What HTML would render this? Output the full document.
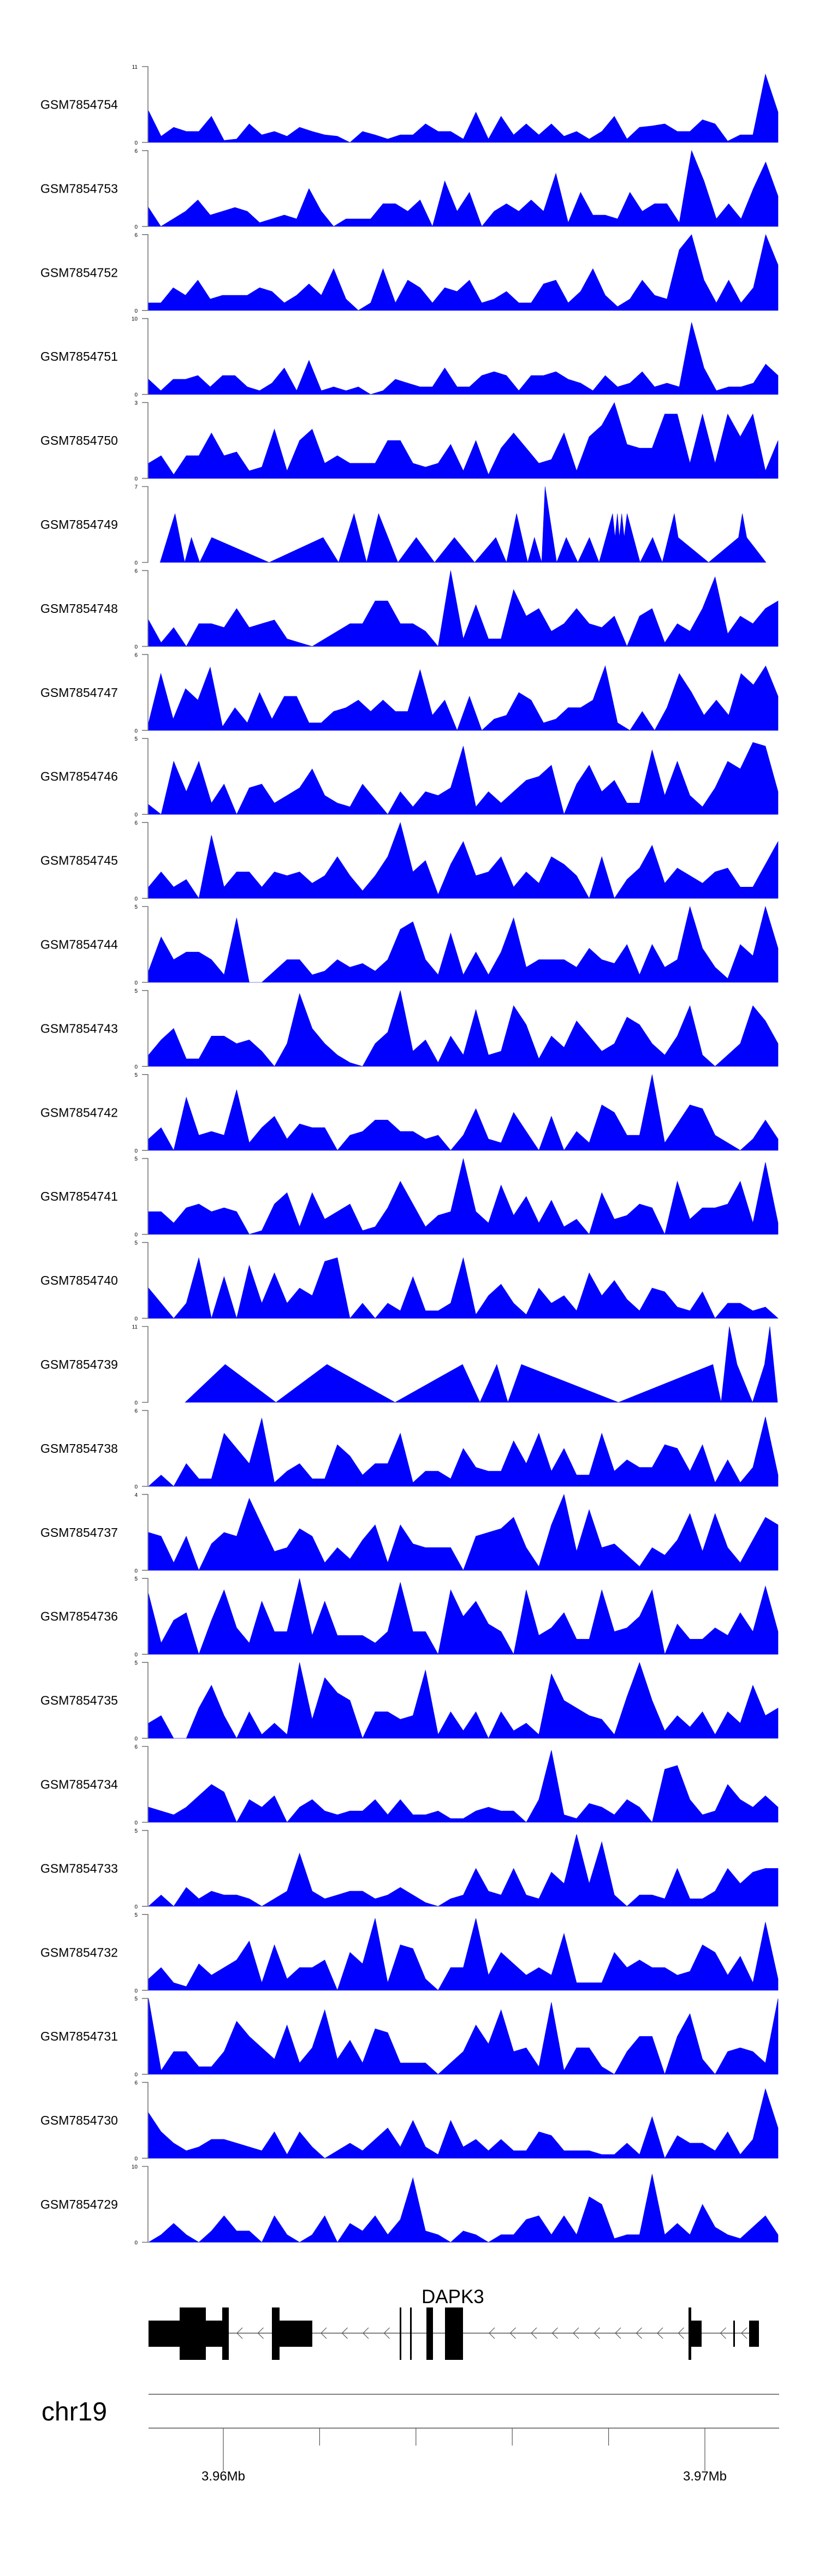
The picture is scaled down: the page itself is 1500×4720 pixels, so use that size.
<!DOCTYPE html>
<html><head><meta charset="utf-8"><title>Coverage tracks DAPK3</title>
<style>
html,body{margin:0;padding:0;background:#fff;}
svg{display:block;font-family:"Liberation Sans",Arial,sans-serif;}
</style></head>
<body>
<svg id="chart" width="1500" height="4720" viewBox="0 0 1500 4720" xmlns="http://www.w3.org/2000/svg">
  <g id="tracks"></g>
  <g id="gene">
    <text x="772" y="4220" font-size="35" fill="#000">DAPK3</text>
    <line x1="419" y1="4275" x2="1390" y2="4275" stroke="#555" stroke-width="1.5"/>
    <g id="chevrons"></g>
    <g id="exons" fill="#000"></g>
  </g>
  <g id="axis">
    <text x="76" y="4435" font-size="48" fill="#000">chr19</text>
    <line x1="272" y1="4387" x2="1427" y2="4387" stroke="#555" stroke-width="1.5"/>
    <line x1="272" y1="4449" x2="1427" y2="4449" stroke="#555" stroke-width="1.5"/>
    <g id="gticks"></g>
  </g>
</svg>
<script>
const trackNames = ["GSM7854754","GSM7854753","GSM7854752","GSM7854751","GSM7854750","GSM7854749","GSM7854748","GSM7854747","GSM7854746","GSM7854745","GSM7854744","GSM7854743","GSM7854742","GSM7854741","GSM7854740","GSM7854739","GSM7854738","GSM7854737","GSM7854736","GSM7854735","GSM7854734","GSM7854733","GSM7854732","GSM7854731","GSM7854730","GSM7854729"];
const yMax = [11,6,6,10,3,7,6,6,5,6,5,5,5,5,5,11,6,4,5,5,6,5,5,5,6,10];
const kbMax = 13.05;
const v754 = [4.6,0.9,2.2,1.6,1.6,3.8,0.3,0.5,2.7,1.1,1.6,0.9,2.2,1.6,1.1,0.9,0,1.6,1.1,0.5,1.1,1.1,2.7,1.6,1.6,0.5,4.4,0.5,3.8,1.1,2.7,1.1,2.7,0.9,1.6,0.5,1.6,3.8,0.5,2.2,2.4,2.7,1.6,1.6,3.3,2.7,0.2,1.1,1.1,9.9,4.4];
const v753 = [1.5,0,0.6,1.2,2.1,0.9,1.2,1.5,1.2,0.3,0.6,0.9,0.6,3,1.2,0,0.6,0.6,0.6,1.8,1.8,1.2,2.1,0,3.6,1.2,2.7,0,1.2,1.8,1.2,2.1,1.2,4.2,0.3,2.7,0.9,0.9,0.6,2.7,1.2,1.8,1.8,0.3,6,3.6,0.6,1.8,0.6,3,5.1,2.4];
const v752 = [0.6,0.6,1.8,1.2,2.4,0.9,1.2,1.2,1.2,1.8,1.5,0.6,1.2,2.1,1.2,3.3,0.9,0,0.6,3.3,0.6,2.4,1.8,0.6,1.8,1.5,2.4,0.6,0.9,1.5,0.6,0.6,2.1,2.4,0.6,1.5,3.3,1.2,0.3,0.9,2.4,1.2,0.9,4.8,6,2.4,0.6,2.4,0.6,1.8,6,3.6];
const v751 = [2,0.5,2,2,2.5,1,2.5,2.5,1,0.5,1.5,3.5,0.5,4.5,0.5,1,0.5,1,0,0.5,2,1.5,1,1,3.5,1,1,2.5,3,2.5,0.5,2.5,2.5,3,2,1.5,0.5,2.5,1,1.5,3,1,1.5,1,9.5,3.5,0.5,1,1,1.5,4,2.5];
const v750 = [0.6,0.9,0.15,0.9,0.9,1.8,0.9,1.05,0.3,0.45,1.95,0.3,1.5,1.95,0.6,0.9,0.6,0.6,0.6,1.5,1.5,0.6,0.45,0.6,1.35,0.3,1.5,0.15,1.2,1.8,1.2,0.6,0.75,1.8,0.3,1.65,2.1,3,1.35,1.2,1.2,2.55,2.55,0.6,2.55,0.6,2.55,1.65,2.55,0.3,1.5];
const pos749 = [0.24,0.55,0.75,0.89,1.06,1.31,2.5,3.62,3.94,4.26,4.52,4.77,5.17,5.55,5.93,6.34,6.76,7.2,7.42,7.63,7.86,8.0,8.15,8.22,8.46,8.66,8.9,9.14,9.34,9.62,9.67,9.72,9.76,9.81,9.86,9.92,10.19,10.45,10.65,10.9,10.98,11.61,12.23,12.31,12.4,12.8];
const v749 = [0,4.5,0,2.3,0,2.3,0,2.3,0,4.5,0,4.5,0,2.3,0,2.3,0,2.3,0,4.5,0,2.3,0,7,0,2.3,0,2.3,0,4.5,2.3,4.5,2.3,4.5,2.3,4.5,0,2.3,0,4.5,2.3,0,2.3,4.5,2.3,0];
const v748 = [2.1,0.3,1.5,0,1.8,1.8,1.5,3,1.5,1.8,2.1,0.6,0.3,0,0.6,1.2,1.8,1.8,3.6,3.6,1.8,1.8,1.2,0,6,0.6,3.3,0.6,0.6,4.5,2.4,3,1.2,1.8,3,1.8,1.5,2.4,0,2.4,3,0.3,1.8,1.2,3,5.5,1,2.4,1.8,3,3.6];
const v747 = [0.6,4.5,0.9,3.3,2.4,5,0.3,1.8,0.6,3,0.9,2.7,2.7,0.6,0.6,1.5,1.8,2.4,1.5,2.4,1.5,1.5,4.8,1.2,2.4,0,2.7,0,0.9,1.2,3,2.4,0.6,0.9,1.8,1.8,2.4,5.1,0.6,0,1.5,0,1.8,4.5,3,1.2,2.4,1.2,4.5,3.6,5.1,2.7];
const v746 = [0.65,0,3.5,1.5,3.5,0.75,2,0,1.75,2,0.75,1.25,1.75,3,1.25,0.75,0.5,2,1,0,1.5,0.5,1.5,1.25,1.75,4.5,0.5,1.5,0.75,1.5,2.25,2.5,3.25,0,2,3.25,1.5,2.25,0.75,0.75,4.25,1.25,3.5,1.25,0.5,1.75,3.5,3,4.75,4.5,1.5];
const v745 = [0.9,2.1,0.9,1.5,0,5,0.9,2.1,2.1,0.9,2.1,1.8,2.1,1.2,1.8,3.3,1.8,0.6,1.8,3.3,6,2.1,3,0.3,2.7,4.5,1.8,2.1,3.3,0.9,2.1,1.2,3.3,2.7,1.8,0,3.3,0,1.5,2.4,4.2,1.2,2.4,1.8,1.2,2.1,2.4,0.9,0.9,2.7,4.5];
const v744 = [0.75,3,1.5,2,2,1.5,0.5,4.25,0,0,0.75,1.5,1.5,0.5,0.75,1.5,1,1.25,0.75,1.5,3.5,4,1.5,0.5,3.25,0.5,2,0.5,2,4.25,1,1.5,1.5,1.5,1,2.25,1.5,1.25,2.5,0.5,2.5,1,1.5,5,2.25,1,0.25,2.5,1.75,5,2.25];
const v743 = [0.75,1.75,2.5,0.5,0.5,2,2,1.5,1.75,1,0,1.5,4.8,2.5,1.5,0.75,0.25,0,1.5,2.25,5,1,1.75,0.25,2,0.75,3.75,0.75,1,4,2.75,0.5,2,1.25,3,2,1,1.5,3.25,2.75,1.5,0.75,2,4,0.75,0,0.75,1.5,4,3,1.5];
const v742 = [0.75,1.5,0,3.5,1,1.25,1,4,0.5,1.5,2.25,0.75,1.75,1.5,1.5,0,1,1.25,2,2,1.25,1.25,0.75,1,0,1,2.75,0.75,0.5,2.5,1.25,0,2.25,0,1.25,0.5,3,2.5,1,1,5,0.5,1.75,3,2.75,1,0.5,0,0.75,2,0.75];
const v741 = [1.5,1.5,0.75,1.75,2,1.5,1.75,1.5,0,0.25,2,2.75,0.5,2.75,1,1.5,2,0.25,0.5,1.75,3.5,2,0.5,1.25,1.5,5,1.5,0.75,3.25,1.25,2.5,0.75,2.25,0.5,1,0,2.75,1,1.25,2,1.75,0,3.5,1,1.75,1.75,2,3.5,0.75,4.75,0.75];
const v740 = [2,1,0,1,4,0,2.75,0,3.5,1,3,1,2,1.5,3.75,4,0,1,0,1,0.5,2.75,0.5,0.5,1,4,0.25,1.5,2.25,1,0.25,2,1,1.5,0.5,3,1.5,2.5,1.25,0.5,2,1.75,0.75,0.5,1.75,0,1,1,0.5,0.75,0];
const pos739 = [0.76,1.59,2.64,3.7,5.11,6.51,6.87,7.22,7.45,7.73,9.74,11.7,11.87,12.04,12.2,12.52,12.77,12.88,13.04];
const v739 = [0,5.5,0,5.5,0,5.5,0,5.5,0,5.5,0,5.5,0,11,5.5,0,5.5,11,0];
const v738 = [0,0.9,0,1.8,0.6,0.6,4.2,3,1.8,5.4,0.3,1.2,1.8,0.6,0.6,3.3,2.4,0.9,1.8,1.8,4.2,0.3,1.2,1.2,0.6,3,1.5,1.2,1.2,3.6,1.8,4.2,1.2,3,0.9,0.9,4.2,1.2,2.1,1.5,1.5,3.3,3,1.2,3.3,0.3,2.1,0.3,1.5,5.5,0.9];
const v737 = [2,1.8,0.4,1.8,0,1.4,2,1.8,3.8,2.4,1,1.2,2.2,1.8,0.4,1.2,0.6,1.6,2.4,0.4,2.4,1.4,1.2,1.2,1.2,0,1.8,2,2.2,2.8,1.2,0.2,2.4,4,1,3.2,1.2,1.4,0.8,0.2,1.2,0.8,1.6,3,1,3,1.2,0.4,1.6,2.8,2.4];
const v736 = [4,0.75,2.25,2.75,0,2.25,4.25,1.75,0.75,3.5,1.5,1.5,5,1.25,3.5,1.25,1.25,1.25,0.75,1.5,4.75,1.5,1.5,0,4.25,2.5,3.5,2,1.5,0,4.25,1.25,1.75,2.75,1,1,4.25,1.5,1.75,2.5,4.25,0,2,1,1,1.75,1.25,2.75,1.5,4.5,1.5];
const v735 = [1,1.5,0,0,2,3.5,1.5,0,1.75,0.25,1,0.25,5,1.25,4,3,2.5,0,1.75,1.75,1.25,1.5,4.5,0.25,1.75,0.5,1.75,0,1.75,0.5,1,0.25,4.25,2.5,2,1.5,1.25,0.25,2.75,5,2.5,0.5,1.5,0.75,1.75,0.25,1.75,1,3.5,1.5,2];
const v734 = [1.2,0.9,0.6,1.2,2.1,3,2.4,0,1.8,1.2,2.1,0,1.2,1.8,0.9,0.6,0.9,0.9,1.8,0.6,1.8,0.6,0.6,0.9,0.3,0.3,0.9,1.2,0.9,0.9,0,1.8,5.7,0.6,0.3,1.5,1.2,0.6,1.8,1.2,0,4.2,4.5,1.8,0.6,0.9,3,1.8,1.2,2.1,1.2];
const v733 = [0,0.75,0,1.25,0.5,1,0.75,0.75,0.5,0,0.5,1,3.5,1,0.5,0.75,1,1,0.5,0.75,1.25,0.75,0.25,0,0.5,0.75,2.5,1,0.75,2.5,0.75,0.5,2.25,1.5,4.75,1.5,4.25,0.75,0,0.75,0.75,0.5,2.5,0.5,0.5,1,2.5,1.5,2.25,2.5,2.5];
const v732 = [0.75,1.5,0.5,0.25,1.75,1,1.5,2,3.25,0.5,3,0.75,1.5,1.5,2,0,2.5,1.75,4.75,0.5,3,2.75,0.75,0,1.5,1.5,4.75,1,2.5,1.75,1,1.5,1,3.75,0.5,0.5,0.5,2.5,1.5,2,1.5,1.5,1,1.25,3,2.5,1,2.25,0.5,4.5,0.75];
const v731 = [5,0.25,1.5,1.5,0.5,0.5,1.5,3.5,2.5,1.75,1,3.25,0.75,1.75,4.25,1,2.25,0.75,3,2.75,0.75,0.75,0.75,0,0.75,1.5,3.25,2,4.25,1.5,1.75,0.5,4.75,0.25,1.75,1.75,0.5,0,1.5,2.5,2.5,0,2.5,4,1,0,1.5,1.75,1.5,0.75,5];
const v730 = [3.6,2.1,1.2,0.6,0.9,1.5,1.5,1.2,0.9,0.6,2.1,0.3,2.1,0.9,0,0.6,1.2,0.6,1.5,2.4,0.9,3,0.9,0.3,3,0.9,1.5,0.6,1.5,0.6,0.6,2.1,1.8,0.6,0.6,0.6,0.3,0.3,1.2,0.3,3.3,0,1.8,1.2,1.2,0.6,2.1,0.3,1.5,5.5,2.4];
const v729 = [0,1,2.5,1,0,1.5,3.5,1.5,1.5,0,3.5,1,0,1,3.5,0,2.5,1.5,3.5,1,3,8.5,1.5,1,0,1.5,1,0,1,1,3,3.5,1,3.5,1,6,5,0.5,1,1,9,1,2.5,1,5,2,1,0.5,2,3.5,1];
const trackValues = [v754,v753,v752,v751,v750,v749,v748,v747,v746,v745,v744,v743,v742,v741,v740,v739,v738,v737,v736,v735,v734,v733,v732,v731,v730,v729];
const trackPositions = {5: pos749, 15: pos739};
const genomeTickLabels = ["3.96Mb","","","","","3.97Mb"];

const NS = "http://www.w3.org/2000/svg";
const X0 = 272, X1 = 1425, TOP0 = 122, TH = 139, PITCH = 153.9;
function xScale(kb){ return X0 + kb / kbMax * (X1 - X0); }
function mk(tag, attrs, parent){ const e = document.createElementNS(NS, tag); for (const k in attrs) e.setAttribute(k, attrs[k]); parent.appendChild(e); return e; }

const tracksG = document.getElementById('tracks');
trackNames.forEach((name, k) => {
  const top = TOP0 + k * PITCH, base = top + TH;
  const g = mk('g', {}, tracksG);
  
  
  const lab = mk('text', {x: 74, y: (top + base) / 2 + 8, 'font-size': 23, fill: '#000'}, g);
  lab.textContent = name;
  
  
  const ax = mk('path', {d: `M260 ${top}H271V${base}H260`, fill: 'none', stroke: '#777', 'stroke-width': 1.6}, g);
  
  
  const tMax = mk('text', {x: 252, y: top + 4, 'font-size': 10, 'text-anchor': 'end', fill: '#000'}, g);
  tMax.textContent = String(yMax[k]);
  
  
  const tMin = mk('text', {x: 252, y: base + 4, 'font-size': 10, 'text-anchor': 'end', fill: '#000'}, g);
  tMin.textContent = '0';
  
  
  const vals = trackValues[k];
  const pos = trackPositions[k];
  const n = vals.length;
  const yS = v => base - Math.min(v, yMax[k]) / yMax[k] * TH;
  let pts = [];
  for (let i = 0; i < n; i++) {
    const kb = pos ? pos[i] : i / (n - 1) * kbMax;
    pts.push([xScale(kb), yS(vals[i])]);
  }
  let d = `M${pts[0][0].toFixed(1)} ${base}`;
  pts.forEach(p => { d += `L${p[0].toFixed(1)} ${p[1].toFixed(1)}`; });
  d += `L${pts[n-1][0].toFixed(1)} ${base}Z`;
  const area = mk('path', {d: d, fill: '#0000FF', stroke: '#0000FF', 'stroke-width': 0.6}, g);
  
  
});

// exons
const exG = document.getElementById('exons');
const midExons = [[272,329],[377,407],[512,572],[1266,1285],[1343,1346],[1372,1390]];
const tallExons = [[329,377],[407,419],[498,512],[732,735],[751,754],[781,793],[815,848],[1261,1266]];
midExons.forEach(e => { const r = mk('rect', {x: e[0], y: 4252, width: e[1]-e[0], height: 48}, exG);
  
   });
tallExons.forEach(e => { const r = mk('rect', {x: e[0], y: 4228, width: e[1]-e[0], height: 96}, exG);
  
   });
const allEx = midExons.concat(tallExons);
const chG = document.getElementById('chevrons');
for (let x = 434; x < 1390; x += 38.5) {
  if (allEx.some(e => x > e[0] - 2 && x < e[1] + 10)) continue;
  const c = mk('path', {d: `M${x+10} 4265L${x} 4275L${x+10} 4285`, fill: 'none', stroke: '#555', 'stroke-width': 1.2}, chG);
  
  
}

// genome ticks
const gt = document.getElementById('gticks');
genomeTickLabels.forEach((lab, i) => {
  const x = 409 + i * 176.4;
  const major = lab !== '';
  const ln = mk('line', {x1: x, y1: 4449, x2: x, y2: major ? 4527 : 4481, stroke: '#555', 'stroke-width': 1.2}, gt);
  
  
  if (major) {
    const t = mk('text', {x: x, y: 4545, 'font-size': 24, 'text-anchor': 'middle', fill: '#000'}, gt);
    t.textContent = lab;
    
    
  }
});
</script>
</body></html>
